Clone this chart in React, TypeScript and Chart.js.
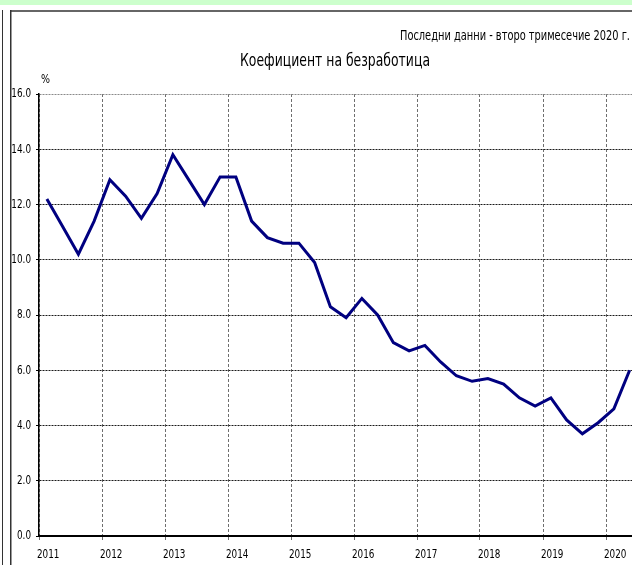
import React, { useEffect, useRef } from 'react';
import { Chart, registerables } from 'chart.js';

Chart.register(...registerables);

const years = ['2011', '2012', '2013', '2014', '2015', '2016', '2017', '2018', '2019', '2020'];
const quarters = ['I', 'II', 'III', 'IV'];
const unemployment = [
  12.2, 11.2, 10.2, 11.4,
  12.9, 12.3, 11.5, 12.4,
  13.8, 12.9, 12.0, 13.0,
  13.0, 11.4, 10.8, 10.6,
  10.6, 9.9, 8.3, 7.9,
  8.6, 8.0, 7.0, 6.7,
  6.9, 6.3, 5.8, 5.6,
  5.7, 5.5, 5.0, 4.7,
  5.0, 4.2, 3.7, 4.1,
  4.6, 6.0,
];
const yMin = 0;
const yMax = 16;
const yStep = 2;
const titleText = 'Коефициент на безработица';
const noteText = 'Последни данни - второ тримесечие 2020 г.';
const unitText = '%';

const W = 632;
const H = 565;
const FONT = "'DejaVu Sans', Verdana, sans-serif";
const CONDENSE = 0.68;

const PLOT_LEFT = 39;
const PLOT_TOP = 94;
const PLOT_BOTTOM = 536;
const QUARTER_PX = 15.75;

export default function App() {
  const ref = useRef<HTMLCanvasElement | null>(null);

  useEffect(() => {
    if (!ref.current) return;
    const points = unemployment.map((v, i) => ({ x: i, y: v }));
    const labels = unemployment.map((_, i) => `${quarters[i % 4]} ${years[Math.floor(i / 4)]}`);

    const frame = {
      id: 'frame',
      beforeInit(chart: any) {
        const ctx = chart.ctx;
        const orig = ctx.fillText.bind(ctx);
        ctx.fillText = (text: string, x: number, y: number, maxWidth?: number) => {
          const natural = ctx.measureText(text).width;
          const target = maxWidth !== undefined ? Math.min(maxWidth, natural) : natural * CONDENSE;
          orig(text, x, y, target);
        };
      },
      beforeDraw(chart: any) {
        const ctx = chart.ctx;
        ctx.save();
        ctx.fillStyle = '#ffffff';
        ctx.fillRect(0, 0, W, H);
        ctx.fillStyle = '#ccffcc';
        ctx.fillRect(0, 0, W, 5);
        ctx.fillStyle = '#666666';
        ctx.fillRect(10, 10, W - 10, 2);
        ctx.fillStyle = '#333333';
        ctx.fillRect(10, 10, 1.5, H - 10);
        ctx.fillRect(2, 10, 1, H - 10);
        ctx.restore();
      },
      afterDraw(chart: any) {
        const ctx = chart.ctx;
        ctx.save();
        ctx.fillStyle = '#000000';
        ctx.textBaseline = 'alphabetic';
        ctx.font = `14px ${FONT}`;
        ctx.textAlign = 'right';
        ctx.fillText(noteText, 630, 40, 230);
        ctx.font = `17px ${FONT}`;
        ctx.textAlign = 'center';
        ctx.fillText(titleText, 335, 66, 190);
        ctx.font = `13px ${FONT}`;
        ctx.textAlign = 'left';
        ctx.fillText(unitText, 41, 83, 9);
        ctx.restore();
      },
    };

    const xMax = -0.5 + (W - PLOT_LEFT) / QUARTER_PX;

    const chart = new Chart(ref.current, {
      type: 'line',
      data: {
        labels,
        datasets: [
          {
            label: titleText,
            data: points,
            borderColor: '#000080',
            borderWidth: 3,
            pointRadius: 0,
            tension: 0,
            fill: false,
          },
        ],
      },
      options: {
        animation: false,
        responsive: false,
        layout: { padding: { top: PLOT_TOP, left: 0, right: 0, bottom: 0 } },
        plugins: {
          legend: { display: false },
          tooltip: { enabled: false },
          title: { display: false },
        },
        scales: {
          x: {
            type: 'linear',
            min: -0.5,
            max: xMax,
            afterBuildTicks: (scale: any) => {
              scale.ticks = years.map((_, k) => ({ value: k * 4 - 0.5 }));
            },
            afterFit: (scale: any) => {
              scale.height = H - PLOT_BOTTOM;
              scale.paddingLeft = 0;
              scale.paddingRight = 0;
            },
            ticks: {
              autoSkip: false,
              maxRotation: 0,
              align: 'start',
              labelOffset: -2,
              padding: 7,
              color: '#000000',
              font: { family: FONT, size: 13 },
              callback: (_v: any, i: number) => years[i],
            },
            grid: {
              color: '#6e6e6e',
              lineWidth: 1,
              tickLength: 4,
              tickColor: '#6e6e6e',
            },
            border: { display: true, color: '#000000', width: 2, dash: [3, 2] },
          },
          y: {
            min: yMin,
            max: yMax,
            afterFit: (scale: any) => {
              scale.width = PLOT_LEFT;
              scale.paddingTop = 0;
              scale.paddingBottom = 0;
            },
            ticks: {
              stepSize: yStep,
              padding: 5,
              color: '#000000',
              font: { family: FONT, size: 13 },
              callback: (v: any) => Number(v).toFixed(1),
            },
            grid: {
              color: (c: any) => (c.tick && c.tick.value === yMax ? '#8a8a8a' : c.tick && c.tick.value === yMin ? 'rgba(0,0,0,0)' : '#1a1a1a'),
              lineWidth: 1,
              tickLength: 3,
              tickColor: '#000000',
              tickBorderDash: [],
            },
            border: { display: true, color: '#000000', width: 1.5, dash: [2, 1] },
          },
        },
      },
      plugins: [frame],
    } as any);

    return () => chart.destroy();
  }, []);

  return (
    <div style={{ position: 'fixed', left: 0, top: 0, width: W, height: H, overflow: 'hidden', background: '#fff' }}>
      <canvas ref={ref} width={W} height={H} style={{ display: 'block', width: W, height: H }} />
    </div>
  );
}
